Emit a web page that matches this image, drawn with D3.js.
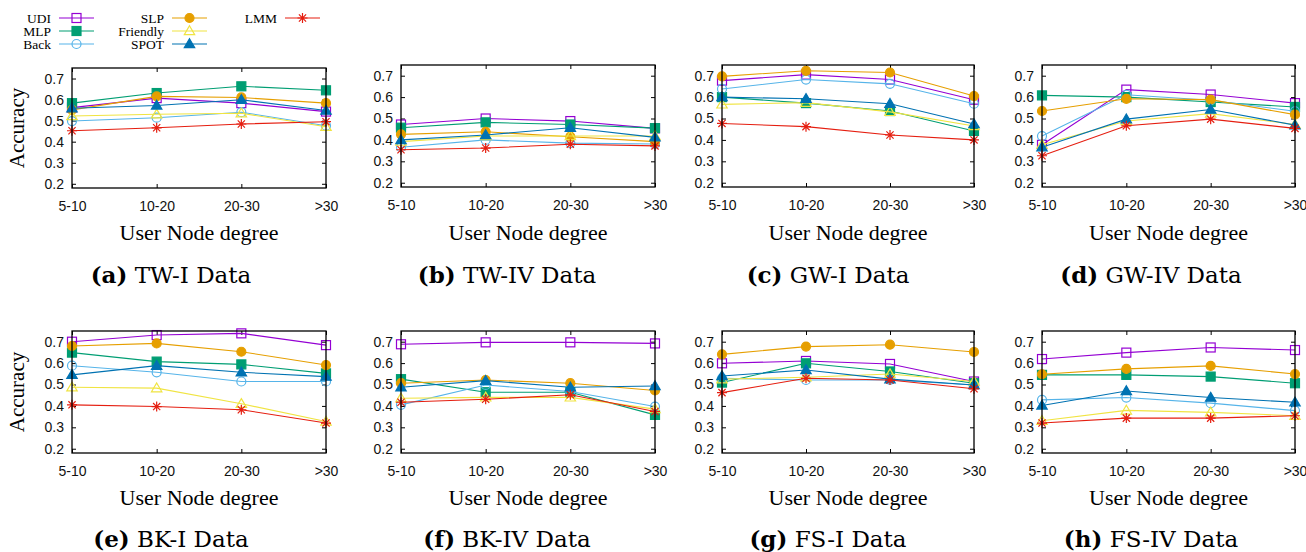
<!DOCTYPE html>
<html>
<head>
<meta charset="utf-8">
<script src="https://cdn.jsdelivr.net/npm/d3@7"></script>
<style>
  body { margin: 0; background: #fff; }
  svg { display: block; }
</style>
</head>
<body>
<svg id="chart" width="1306" height="552"></svg>
<script>
// Data
const categories = ["5-10", "10-20", "20-30", ">30"];
const seriesNames = ["UDI", "MLP", "Back", "SLP", "Friendly", "SPOT", "LMM"];
const yTicks = [0.2, 0.3, 0.4, 0.5, 0.6, 0.7];
const panelLetters = ["a", "b", "c", "d", "e", "f", "g", "h"];
const panelNames = ["TW-I Data", "TW-IV Data", "GW-I Data", "GW-IV Data",
                    "BK-I Data", "BK-IV Data", "FS-I Data", "FS-IV Data"];

// one row per series, in seriesNames order
const twI = [
  [0.562, 0.607, 0.583, 0.543],
  [0.583, 0.631, 0.663, 0.644],
  [0.498, 0.514, 0.540, 0.476],
  [0.551, 0.615, 0.610, 0.583],
  [0.522, 0.530, 0.535, 0.471],
  [0.559, 0.572, 0.599, 0.548],
  [0.452, 0.466, 0.484, 0.495]
];
const twIV = [
  [0.472, 0.500, 0.488, 0.454],
  [0.457, 0.482, 0.472, 0.455],
  [0.366, 0.400, 0.385, 0.381],
  [0.426, 0.438, 0.415, 0.392],
  [0.392, 0.418, 0.418, 0.418],
  [0.400, 0.423, 0.457, 0.412],
  [0.354, 0.362, 0.380, 0.372]
];
const gwI = [
  [0.677, 0.705, 0.682, 0.588],
  [0.600, 0.572, 0.535, 0.442],
  [0.638, 0.682, 0.662, 0.569],
  [0.697, 0.723, 0.715, 0.605],
  [0.566, 0.574, 0.531, 0.465],
  [0.600, 0.592, 0.569, 0.474],
  [0.477, 0.462, 0.423, 0.400]
];
const gwIV = [
  [0.377, 0.635, 0.612, 0.572],
  [0.608, 0.600, 0.577, 0.554],
  [0.418, 0.611, 0.585, 0.534],
  [0.535, 0.592, 0.588, 0.518],
  [0.377, 0.488, 0.523, 0.472],
  [0.366, 0.497, 0.542, 0.469],
  [0.326, 0.466, 0.497, 0.454]
];
const bkI = [
  [0.700, 0.731, 0.739, 0.684],
  [0.649, 0.607, 0.594, 0.552],
  [0.588, 0.557, 0.514, 0.514],
  [0.680, 0.692, 0.653, 0.591],
  [0.487, 0.483, 0.410, 0.327],
  [0.545, 0.588, 0.557, 0.537],
  [0.405, 0.397, 0.382, 0.320]
];
const bkIV = [
  [0.688, 0.697, 0.697, 0.692],
  [0.525, 0.464, 0.464, 0.358],
  [0.405, 0.498, 0.467, 0.397],
  [0.506, 0.521, 0.506, 0.472],
  [0.436, 0.440, 0.440, 0.385],
  [0.487, 0.518, 0.487, 0.493],
  [0.417, 0.431, 0.452, 0.374]
];
const fsI = [
  [0.599, 0.610, 0.596, 0.514],
  [0.509, 0.599, 0.561, 0.506],
  [0.529, 0.521, 0.521, 0.498],
  [0.641, 0.677, 0.686, 0.652],
  [0.525, 0.534, 0.549, 0.514],
  [0.540, 0.568, 0.525, 0.498],
  [0.462, 0.529, 0.521, 0.480]
];
const fsIV = [
  [0.619, 0.649, 0.673, 0.661],
  [0.545, 0.545, 0.537, 0.506],
  [0.428, 0.439, 0.413, 0.378],
  [0.548, 0.573, 0.587, 0.549],
  [0.331, 0.379, 0.370, 0.354],
  [0.402, 0.470, 0.439, 0.417],
  [0.320, 0.343, 0.343, 0.354]
];
const panelData = [twI, twIV, gwI, gwIV, bkI, bkIV, fsI, fsIV];

// gnuplot default line colours and point types
const colors = ["#9400d3", "#009e73", "#56b4e9", "#e69f00", "#f0e442", "#0072b2", "#e51e10"];
const shapes = ["sqOpen", "sqFill", "circOpen", "circFill", "triOpen", "triFill", "star"];

// Layout
const colLeft = [72, 401, 722, 1042];
const colRight = [326, 655, 974, 1295];
const rowTop = [65, 331];
const rowBottom = [187, 453];
const captionX = [171, 507, 828, 1151];

const svg = d3.select("#chart");
const sansFont = "'Liberation Sans', Arial, sans-serif";
const serifFont = "'Liberation Serif', 'Times New Roman', serif";

function drawMarker(g, shape, color, x, y) {
  const s = 4.5;
  if (shape === "sqOpen" || shape === "sqFill") {
    g.append("rect")
      .attr("x", x - s).attr("y", y - s)
      .attr("width", 2 * s).attr("height", 2 * s)
      .attr("fill", shape === "sqFill" ? color : "none")
      .attr("stroke", color).attr("stroke-width", 1.2);
  } else if (shape === "circOpen" || shape === "circFill") {
    g.append("circle")
      .attr("cx", x).attr("cy", y).attr("r", s)
      .attr("fill", shape === "circFill" ? color : "none")
      .attr("stroke", color).attr("stroke-width", 1.2);
  } else if (shape === "triOpen" || shape === "triFill") {
    const t = 5.2;
    g.append("path")
      .attr("d", `M${x},${y - t} L${x + t},${y + t * 0.7} L${x - t},${y + t * 0.7} Z`)
      .attr("fill", shape === "triFill" ? color : "none")
      .attr("stroke", color).attr("stroke-width", 1.2);
  } else {
    const r = 5, d = r * 0.72;
    g.append("path")
      .attr("d", `M${x - r},${y} H${x + r} M${x},${y - r} V${y + r} ` +
                 `M${x - d},${y - d} L${x + d},${y + d} M${x - d},${y + d} L${x + d},${y - d}`)
      .attr("stroke", color).attr("stroke-width", 1.2).attr("fill", "none");
  }
}

panelData.forEach((rows, p) => {
  const col = p % 4, row = Math.floor(p / 4);
  const top = (p === 0) ? 68 : rowTop[row];
  const bottom = (p === 0) ? 188 : rowBottom[row];

  const x = d3.scalePoint().domain(categories).range([colLeft[col], colRight[col]]);
  const y = d3.scaleLinear().domain([0.18, 0.75]).range([bottom, top]);

  const g = svg.append("g");

  // y axis (inward ticks, labels outside)
  const yAxis = g.append("g")
    .attr("transform", `translate(${colLeft[col]},0)`)
    .call(d3.axisLeft(y).tickValues(yTicks).tickFormat(d3.format(".1f")).tickSize(-4).tickPadding(8));
  yAxis.select(".domain").remove();
  yAxis.selectAll("text").attr("font-family", sansFont).attr("font-size", 14).attr("fill", "#111");
  yAxis.selectAll("line").attr("stroke", "#000");

  // mirrored y ticks on the right
  const yAxisR = g.append("g")
    .attr("transform", `translate(${colRight[col]},0)`)
    .call(d3.axisRight(y).tickValues(yTicks).tickSize(-4).tickFormat(""));
  yAxisR.select(".domain").remove();

  // x axis
  const xAxis = g.append("g")
    .attr("transform", `translate(0,${bottom})`)
    .call(d3.axisBottom(x).tickSize(-4).tickPadding(13));
  xAxis.select(".domain").remove();
  xAxis.selectAll("text").attr("font-family", sansFont).attr("font-size", 14).attr("fill", "#111");

  const xAxisT = g.append("g")
    .attr("transform", `translate(0,${top})`)
    .call(d3.axisTop(x).tickSize(-4).tickFormat(""));
  xAxisT.select(".domain").remove();

  // series
  const line = d3.line().x((d, i) => x(categories[i])).y(d => y(d));
  rows.forEach((vals, s) => {
    g.append("path")
      .attr("d", line(vals))
      .attr("fill", "none")
      .attr("stroke", colors[s])
      .attr("stroke-width", 1.1);
    vals.forEach((v, i) => drawMarker(g, shapes[s], colors[s], x(categories[i]), y(v)));
  });

  // frame
  g.append("rect")
    .attr("x", colLeft[col]).attr("y", top)
    .attr("width", colRight[col] - colLeft[col]).attr("height", bottom - top)
    .attr("fill", "none").attr("stroke", "#000").attr("stroke-width", 1.3);

  // x title
  g.append("text")
    .attr("x", (colLeft[col] + colRight[col]) / 2)
    .attr("y", row === 0 ? 240 : 505)
    .attr("text-anchor", "middle")
    .attr("font-family", serifFont).attr("font-size", 22)
    .text("User Node degree");

  // y title on the left column only
  if (col === 0) {
    g.append("text")
      .attr("transform", `translate(24,${(top + bottom) / 2}) rotate(-90)`)
      .attr("text-anchor", "middle")
      .attr("font-family", serifFont).attr("font-size", 21)
      .text("Accuracy");
  }

  // caption
  const cap = g.append("text")
    .attr("x", captionX[col])
    .attr("y", row === 0 ? 283 : 547)
    .attr("text-anchor", "middle")
    .attr("font-family", "'DejaVu Serif', serif").attr("font-size", 23);
  cap.append("tspan").attr("font-weight", "bold").text(`(${panelLetters[p]})`);
  cap.append("tspan").text(" " + panelNames[p]);
});

// legend
const legendCols = [[0, 1, 2], [3, 4, 5], [6]];
const legendLabelRight = [51, 164, 277];
const legendRows = [18, 31, 44];
const lg = svg.append("g");
legendCols.forEach((items, c) => {
  items.forEach((s, r) => {
    const yy = legendRows[r];
    const x0 = legendLabelRight[c] + 8, x1 = x0 + 35;
    lg.append("text")
      .attr("x", legendLabelRight[c]).attr("y", yy + 4.5)
      .attr("text-anchor", "end")
      .attr("font-family", serifFont).attr("font-size", 13.5)
      .text(seriesNames[s]);
    lg.append("line")
      .attr("x1", x0).attr("x2", x1).attr("y1", yy).attr("y2", yy)
      .attr("stroke", colors[s]).attr("stroke-width", 1.1);
    drawMarker(lg, shapes[s], colors[s], (x0 + x1) / 2, yy);
  });
});
</script>
</body>
</html>
